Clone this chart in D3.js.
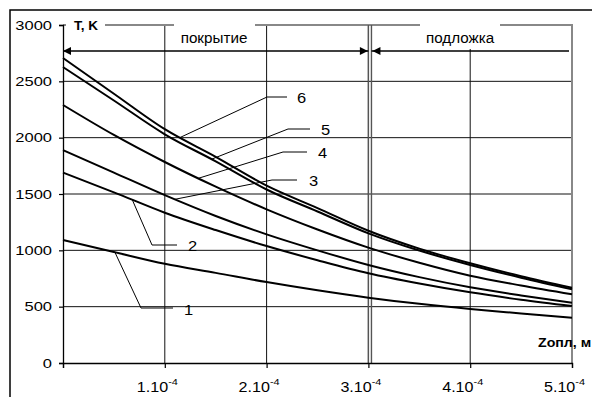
<!DOCTYPE html>
<html><head><meta charset="utf-8">
<script src="https://cdn.jsdelivr.net/npm/d3@7"></script>
<style>
html,body{margin:0;padding:0;background:#fff;}
svg{display:block;font-family:"Liberation Sans",Arial,sans-serif;}
</style></head>
<body>
<svg id="chart" width="592" height="397"></svg>
<script>
// ---- data ----
const zValues = [0, 0.5e-4, 1e-4, 1.5e-4, 2e-4, 2.5e-4, 3e-4, 3.5e-4, 4e-4, 4.5e-4, 5e-4];
const curve1 = [1092, 985, 880, 800, 718, 645, 580, 525, 479, 440, 402];
const curve2 = [1690, 1515, 1334, 1180, 1038, 912, 796, 705, 627, 562, 506];
const curve3 = [1890, 1690, 1490, 1305, 1142, 1000, 870, 762, 672, 600, 535];
const curve4 = [2290, 2024, 1784, 1565, 1364, 1185, 1024, 890, 775, 688, 610];
const curve5 = [2627, 2330, 2030, 1790, 1540, 1345, 1151, 998, 870, 757, 654];
const curve6 = [2707, 2390, 2075, 1830, 1574, 1375, 1174, 1015, 885, 770, 668];
const curveNames = ["1", "2", "3", "4", "5", "6"];
const xTickValues = [0, 1e-4, 2e-4, 3e-4, 4e-4, 5e-4];
const xTickMantissa = ["", "1", "2", "3", "4", "5"];
const xTickExponent = "-4";
const yTickValues = [0, 500, 1000, 1500, 2000, 2500, 3000];
const interfaceZ = [3e-4, 3.03e-4];
const yTitle = "T, K";
const xTitle = "Zопл, м";
const regionNames = ["покрытие", "подложка"];

const series = [curve1, curve2, curve3, curve4, curve5, curve6];

// ---- layout ----
const svg = d3.select("#chart");
const x = d3.scaleLinear().domain([0, 5e-4]).range([63, 572]);
const y = d3.scaleLinear().domain([0, 3000]).range([363, 25]);

function txt(g, px, py, s, size, weight, anchor, sx) {
  return g.append("text")
    .attr("transform", `translate(${px},${py}) scale(${sx},1)`)
    .attr("font-size", size).attr("font-weight", weight || "normal")
    .attr("text-anchor", anchor || "start").attr("fill", "#000").text(s);
}

svg.append("rect").attr("width", 592).attr("height", 397).attr("fill", "#fff");
// outer frame
svg.append("rect").attr("x", 10).attr("y", 10).attr("width", 700).attr("height", 500)
  .attr("fill", "none").attr("stroke", "#000").attr("stroke-width", 1.5);

const grid = svg.append("g");
// horizontal grid
yTickValues.filter(v => v > 0 && v < 3000).forEach(v => {
  grid.append("line").attr("x1", x(0)).attr("x2", x(5e-4)).attr("y1", y(v)).attr("y2", y(v))
    .attr("stroke", "#111").attr("stroke-width", 1);
});
// vertical grid
xTickValues.filter(v => v > 0 && v < 5e-4).forEach(v => {
  grid.append("line").attr("x1", x(v)).attr("x2", x(v)).attr("y1", y(0)).attr("y2", y(3000))
    .attr("stroke", "#111").attr("stroke-width", 1);
});
// plot border top & right (gray)
grid.append("path")
  .attr("d", `M${x(0)},${y(3000)}H${x(5e-4)}V${y(0)}`)
  .attr("fill", "none").attr("stroke", "#888").attr("stroke-width", 2);

// interface double line
interfaceZ.forEach(v => {
  grid.append("line").attr("x1", x(v)).attr("x2", x(v)).attr("y1", y(3000)).attr("y2", y(0) + 1)
    .attr("stroke", "#555").attr("stroke-width", 1.4);
});

// axes
const xAxis = d3.axisBottom(x).tickValues(xTickValues).tickSize(5).tickFormat("");
svg.append("g").attr("transform", `translate(0,${y(0)})`).call(xAxis)
  .call(g => { g.select(".domain").attr("stroke", "#000").attr("stroke-width", 1.3); g.selectAll(".tick line").attr("stroke", "#000").attr("stroke-width", 1.2); });
const yAxis = d3.axisLeft(y).tickValues(yTickValues).tickSize(4).tickFormat("");
svg.append("g").attr("transform", `translate(${x(0)},0)`).call(yAxis)
  .call(g => { g.select(".domain").attr("stroke", "#000").attr("stroke-width", 1.3); g.selectAll(".tick line").attr("stroke", "#000").attr("stroke-width", 1.2); });

// y tick labels
yTickValues.forEach(v => {
  txt(svg, 52, y(v) + 4.6, String(v), 12.5, "normal", "end", 1.32);
});
// x tick labels
xTickValues.forEach((v, i) => {
  if (!xTickMantissa[i]) return;
  const t = svg.append("text")
    .attr("transform", `translate(${x(v) - 28},392) scale(1.15,1)`)
    .attr("font-size", 14).attr("fill", "#000");
  t.append("tspan").text(xTickMantissa[i] + ".10");
  t.append("tspan").attr("font-size", 9.5).attr("dy", -7).text(xTickExponent);
});

// curves
const line = d3.line().x((d, i) => x(zValues[i])).y(d => y(d)).curve(d3.curveMonotoneX);
svg.append("g").selectAll("path").data(series).join("path")
  .attr("d", d => line(d)).attr("fill", "none").attr("stroke", "#000").attr("stroke-width", 2);

// region labels with white boxes
svg.append("rect").attr("x", 174).attr("y", 19).attr("width", 81).attr("height", 29).attr("fill", "#fff");
svg.append("rect").attr("x", 420).attr("y", 19).attr("width", 80).attr("height", 30).attr("fill", "#fff");
txt(svg, 214, 43, regionNames[0], 14.5, "normal", "middle", 1.05);
txt(svg, 460, 43, regionNames[1], 14.5, "normal", "middle", 1.05);

// arrows
const ay = 51;
svg.append("line").attr("x1", x(0)).attr("x2", x(interfaceZ[0])).attr("y1", ay).attr("y2", ay)
  .attr("stroke", "#000").attr("stroke-width", 1.6);
svg.append("line").attr("x1", x(interfaceZ[1])).attr("x2", x(5e-4) - 3).attr("y1", ay).attr("y2", ay)
  .attr("stroke", "#000").attr("stroke-width", 1.6);
function head(tipX, dir) {
  svg.append("path").attr("d", `M${tipX},${ay}L${tipX + dir * 8},${ay - 4}L${tipX + dir * 8},${ay + 4}Z`).attr("fill", "#000");
}
head(x(0), 1);
head(x(interfaceZ[0]) - 0.5, -1);
head(x(interfaceZ[1]) + 1, 1);

// axis titles
svg.append("rect").attr("x", 66).attr("y", 16).attr("width", 39).attr("height", 16).attr("fill", "#fff");
txt(svg, 74, 30, yTitle, 13.5, "bold", "start", 1.0);
txt(svg, 538, 347, xTitle, 13.5, "bold", "start", 1.05);

// curve labels with leader lines
function interp(arr, z) { return d3.scaleLinear().domain(zValues).range(arr)(z); }
const leaders = [
  { s: 0, z: 0.51e-4, hx1: 141, hx2: 173, hy: 308, tx: 184, ty: 315 },
  { s: 1, z: 0.68e-4, hx1: 152, hx2: 177, hy: 245, tx: 188, ty: 251 },
  { s: 2, z: 1.10e-4, hx1: 272, hx2: 297, hy: 180, tx: 309, ty: 186 },
  { s: 3, z: 1.33e-4, hx1: 283, hx2: 307, hy: 152, tx: 318, ty: 158 },
  { s: 4, z: 1.46e-4, hx1: 288, hx2: 310, hy: 129, tx: 321, ty: 135 },
  { s: 5, z: 1.15e-4, hx1: 267, hx2: 287, hy: 97,  tx: 297, ty: 103 }
];
leaders.forEach(L => {
  const px = x(L.z), py = y(interp(series[L.s], L.z));
  svg.append("path").attr("d", `M${px},${py}L${L.hx1},${L.hy}H${L.hx2}`)
    .attr("fill", "none").attr("stroke", "#000").attr("stroke-width", 1);
  txt(svg, L.tx, L.ty, curveNames[L.s], 15, "normal", "start", 1.1);
});
</script>
</body></html>
